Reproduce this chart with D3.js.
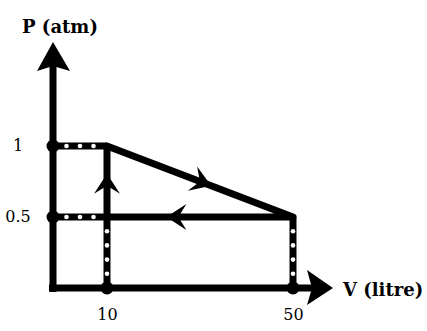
<!DOCTYPE html>
<html>
<head>
<meta charset="utf-8">
<script src="https://cdn.jsdelivr.net/npm/d3@7"></script>
<style>
  body { margin: 0; background: #fff; }
  svg { display: block; }
</style>
</head>
<body>
<svg class="chart" width="427" height="331"></svg>
<script>
//chart data
const volumes = [10, 50];
const pressures = [0.5, 1];
const volumeLabels = ["10", "50"];
const pressureLabels = ["0.5", "1"];
//cycle corners, in order of travel
const cycleV = [10, 50, 10];
const cycleP = [1, 0.5, 0.5];
//where the direction arrow sits along each leg (0..1)
const arrowAt = [0.55, 0.67, 0.58];

let svg = d3.select(".chart"),
	originX = 53,
	originY = 288;

let x = d3.scaleLinear().domain([10, 50]).range([107, 293]),
	y = d3.scaleLinear().domain([0, 1]).range([originY, 146]);

const lineW = 7;

//axes lines + arrowheads
function drawAxisLines(){
	svg.append("line")
		.attr("x1", originX).attr("y1", originY + 4)
		.attr("x2", originX).attr("y2", 62)
		.attr("stroke", "#000").attr("stroke-width", lineW);
	svg.append("line")
		.attr("x1", originX - 4).attr("y1", originY)
		.attr("x2", 314).attr("y2", originY)
		.attr("stroke", "#000").attr("stroke-width", lineW);

	svg.append("path")
		.attr("d", "M53,42 L70,71 L53,66 L37,71 Z")
		.attr("fill", "#000");
	svg.append("path")
		.attr("d", "M333,288 L307,270 L312,288 L307,305 Z")
		.attr("fill", "#000");

	svg.append("text")
		.attr("x", 60).attr("y", 33)
		.attr("text-anchor", "middle")
		.style("font", "bold 18px 'DejaVu Serif'")
		.text("P (atm)");
	svg.append("text")
		.attr("x", 343).attr("y", 296)
		.style("font", "bold 18px 'DejaVu Serif'")
		.text("V (litre)");
}

//tick labels via d3 axes
function drawTicks(){
	let yAxis = svg.append("g")
		.attr("transform", "translate(" + originX + ",0)")
		.call(d3.axisLeft(y).tickValues(pressures).tickSize(0)
			.tickFormat(function(d, i){ return pressureLabels[i]; }));
	yAxis.select(".domain").remove();
	yAxis.selectAll("text")
		.attr("x", -35)
		.attr("dy", "0.3em")
		.attr("text-anchor", "middle")
		.style("font", "16px 'DejaVu Serif'")
		.style("fill", "#000");

	let xAxis = svg.append("g")
		.attr("transform", "translate(0," + originY + ")")
		.call(d3.axisBottom(x).tickValues(volumes).tickSize(0).tickPadding(21)
			.tickFormat(function(d, i){ return volumeLabels[i]; }));
	xAxis.select(".domain").remove();
	xAxis.selectAll("text")
		.style("font", "16px 'DejaVu Serif'")
		.style("fill", "#000");
}

//dotted guide lines (black with white dots)
function drawGuides(){
	let guides = [];
	pressures.forEach(function(p){
		guides.push({x1: originX, y1: y(p), x2: x(10), y2: y(p), n: 3});
	});
	volumes.forEach(function(v){
		guides.push({x1: x(v), y1: originY, x2: x(v), y2: y(0.5), n: 4});
	});

	svg.selectAll(".guide")
		.data(guides)
		.enter()
		.append("line")
		.attr("class", "guide")
		.attr("x1", function(d){ return d.x1; })
		.attr("y1", function(d){ return d.y1; })
		.attr("x2", function(d){ return d.x2; })
		.attr("y2", function(d){ return d.y2; })
		.attr("stroke", "#000")
		.attr("stroke-width", lineW);

	return guides;
}

function drawGuideDots(guides){
	let dots = [];
	guides.forEach(function(g){
		for(let k = 1; k <= g.n; k++){
			let t = k / (g.n + 1);
			dots.push([g.x1 + (g.x2 - g.x1) * t, g.y1 + (g.y2 - g.y1) * t]);
		}
	});
	svg.selectAll(".wdot")
		.data(dots)
		.enter()
		.append("circle")
		.attr("class", "wdot")
		.attr("cx", function(d){ return d[0]; })
		.attr("cy", function(d){ return d[1]; })
		.attr("r", 2.3)
		.attr("fill", "#fff");
}

//the cycle itself
function drawCycle(){
	let pts = cycleV.map(function(v, i){ return [x(v), y(cycleP[i])]; });

	svg.append("path")
		.attr("d", d3.line()(pts) + "Z")
		.attr("fill", "none")
		.attr("stroke", "#000")
		.attr("stroke-width", lineW)
		.attr("stroke-linejoin", "round");

	for(let i = 0; i < pts.length; i++){
		let a = pts[i], b = pts[(i + 1) % pts.length], t = arrowAt[i];
		let px = a[0] + (b[0] - a[0]) * t,
			py = a[1] + (b[1] - a[1]) * t,
			ang = Math.atan2(b[1] - a[1], b[0] - a[0]) * 180 / Math.PI;
		svg.append("path")
			.attr("d", "M2,0 L-18,-13 L-10,0 L-18,13 Z")
			.attr("transform", "translate(" + px + "," + py + ") rotate(" + ang + ")")
			.attr("fill", "#000");
	}
}

function drawEndDots(){
	let ends = pressures.map(function(p){ return [originX, y(p)]; })
		.concat(volumes.map(function(v){ return [x(v), originY]; }));
	svg.selectAll(".bdot")
		.data(ends)
		.enter()
		.append("circle")
		.attr("class", "bdot")
		.attr("cx", function(d){ return d[0]; })
		.attr("cy", function(d){ return d[1]; })
		.attr("r", 6.5)
		.attr("fill", "#000");
}

drawAxisLines();
drawTicks();
let guides = drawGuides();
drawCycle();
drawGuideDots(guides);
drawEndDots();
</script>
</body>
</html>
